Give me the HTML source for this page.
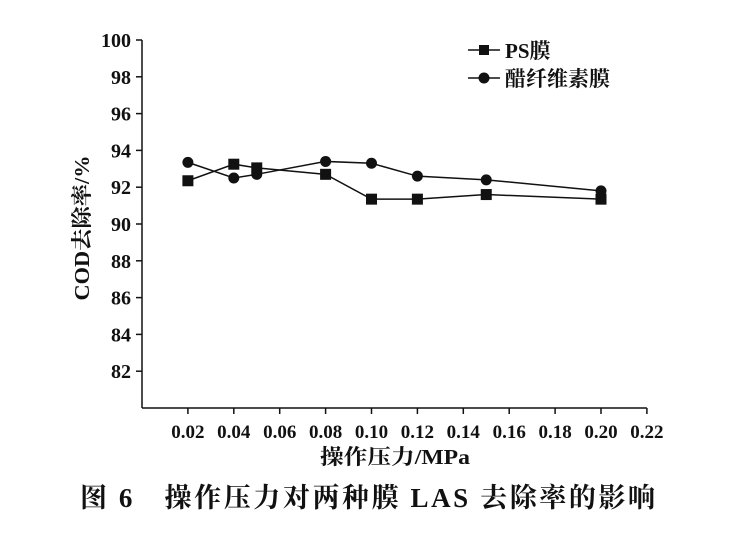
<!DOCTYPE html>
<html><head><meta charset="utf-8"><style>
body{margin:0;background:#fff;}
svg text{font-family:"Liberation Serif","Noto Serif CJK SC",serif;font-weight:bold;fill:#111;}
</style></head><body>
<svg width="743" height="536" viewBox="0 0 743 536">
<g id="axes"></g>
<g id="series"></g>
<g>
<line x1="468" y1="50" x2="500" y2="50" stroke="#111" stroke-width="1.5"/>
<rect x="479" y="45" width="10" height="10" fill="#111"/>
<text x="505" y="58" font-size="21">PS膜</text>
<line x1="468" y1="78" x2="500" y2="78" stroke="#111" stroke-width="1.5"/>
<circle cx="484" cy="78" r="5.5" fill="#111"/>
<text x="505" y="86" font-size="21">醋纤维素膜</text>
</g>
<text x="320" y="464" font-size="21" textLength="150" lengthAdjust="spacingAndGlyphs">操作压力/MPa</text>
<text transform="translate(89,228) rotate(-90)" text-anchor="middle" font-size="21" textLength="145" lengthAdjust="spacingAndGlyphs">COD去除率/%</text>
<text x="80" y="507" font-size="27" textLength="575" lengthAdjust="spacing">图 6　操作压力对两种膜 LAS 去除率的影响</text>
</svg>
<script>
const xTicks=[0.02,0.04,0.06,0.08,0.10,0.12,0.14,0.16,0.18,0.20,0.22];
const yTicks=[82,84,86,88,90,92,94,96,98,100];
const pressures=[0.02,0.04,0.05,0.08,0.10,0.12,0.15,0.20];
const psValues=[92.35,93.25,93.05,92.7,91.35,91.35,91.6,91.35];
const celluloseValues=[93.35,92.5,92.7,93.4,93.3,92.6,92.4,91.8];
const NS='http://www.w3.org/2000/svg';
function X(v){return 142+v*2295;}
function Y(v){return 408-(v-80)*18.4;}
function mk(t,a,p){const e=document.createElementNS(NS,t);for(const k in a)e.setAttribute(k,a[k]);p.appendChild(e);return e;}
const ax=document.getElementById('axes');
const yl=mk('line',{x1:142,y1:Y(100),x2:142,y2:408,stroke:'#111','stroke-width':1.5},ax);


const xl=mk('line',{x1:142,y1:408,x2:X(0.22),y2:408,stroke:'#111','stroke-width':1.5},ax);


yTicks.forEach(v=>{
 mk('line',{x1:136,y1:Y(v),x2:142,y2:Y(v),stroke:'#111','stroke-width':1.5},ax);
 const t=mk('text',{x:131,y:Y(v)+7,'text-anchor':'end','font-size':20},ax);
 t.textContent=v;
 
 
});
xTicks.forEach(v=>{
 mk('line',{x1:X(v),y1:408,x2:X(v),y2:414,stroke:'#111','stroke-width':1.5},ax);
 const t=mk('text',{x:X(v),y:438,'text-anchor':'middle','font-size':19},ax);
 t.textContent=v.toFixed(2);
 
 
});
const sg=document.getElementById('series');
function draw(vals,name,square){
 const pts=pressures.map((p,i)=>X(p)+','+Y(vals[i])).join(' ');
 const pl=mk('polyline',{points:pts,fill:'none',stroke:'#111','stroke-width':1.5},sg);
 
 
 pressures.forEach((p,i)=>{
  let m;
  if(square)m=mk('rect',{x:X(p)-5.5,y:Y(vals[i])-5.5,width:11,height:11,fill:'#111'},sg);
  else m=mk('circle',{cx:X(p),cy:Y(vals[i]),r:5.5,fill:'#111'},sg);
  
  
 });
}
draw(psValues,'ps',true);
draw(celluloseValues,'cellulose',false);
</script>
</body></html>
